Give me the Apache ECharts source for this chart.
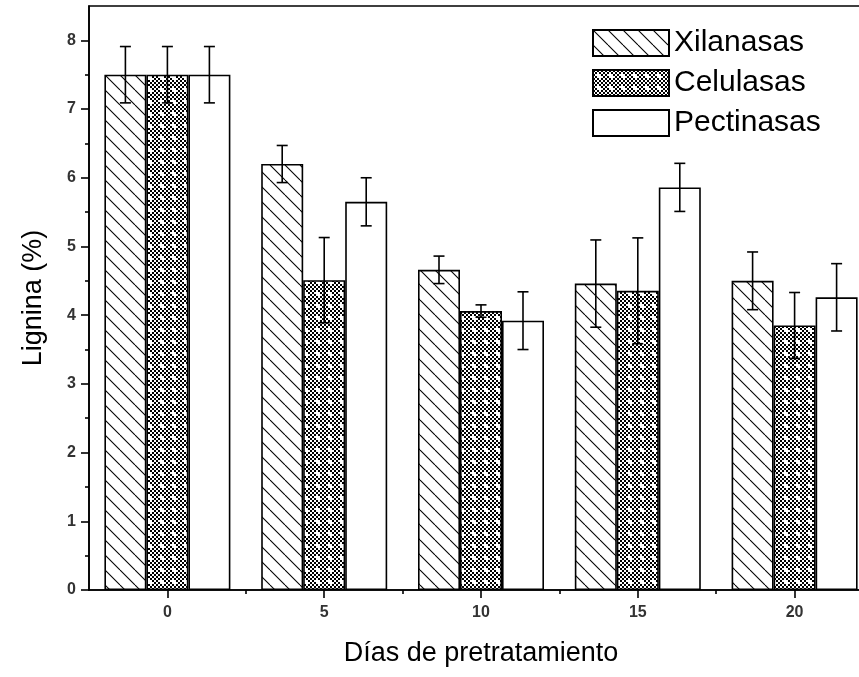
<!DOCTYPE html>
<html>
<head>
<meta charset="utf-8">
<script src="https://cdn.jsdelivr.net/npm/echarts@6/dist/echarts.min.js"></script>
<style>
html,body{margin:0;padding:0;background:#fff;}
#chart{width:859px;height:677px;}
</style>
</head>
<body>
<div id="chart"></div>
<script>
// ---- data ----
const days = [0, 5, 10, 15, 20];
const seriesNames = ['Xilanasas', 'Celulasas', 'Pectinasas'];
const xilanasas = [7.5, 6.2, 4.66, 4.46, 4.5];
const xilanasasErr = [0.41, 0.27, 0.2, 0.635, 0.42];
const celulasas = [7.5, 4.51, 4.06, 4.355, 3.85];
const celulasasErr = [0.41, 0.62, 0.09, 0.77, 0.48];
const pectinasas = [7.5, 5.65, 3.92, 5.86, 4.26];
const pectinasasErr = [0.41, 0.35, 0.42, 0.35, 0.49];
const xMajorTicks = [0, 5, 10, 15, 20];
const xMinorTicks = [2.5, 7.5, 12.5, 17.5];
const yMajorTicks = [0, 1, 2, 3, 4, 5, 6, 7, 8];
const yMinorTicks = [0.5, 1.5, 2.5, 3.5, 4.5, 5.5, 6.5, 7.5];

// ---- patterns ----
function hatchPattern() {
  const c = document.createElement('canvas');
  c.width = 15; c.height = 15;
  const g = c.getContext('2d');
  g.fillStyle = '#fff'; g.fillRect(0, 0, 15, 15);
  g.strokeStyle = '#000'; g.lineWidth = 1.1;
  for (let k = -1; k <= 1; k++) {
    g.beginPath();
    g.moveTo(k * 15, 0);
    g.lineTo(k * 15 + 15, 15);
    g.stroke();
  }
  return c;
}
function checkPattern() {
  const c = document.createElement('canvas');
  c.width = 12; c.height = 12;
  const g = c.getContext('2d');
  g.fillStyle = '#fff'; g.fillRect(0, 0, 12, 12);
  g.fillStyle = '#000';
  for (let i = 0; i < 6; i++) {
    for (let j = 0; j < 6; j++) {
      if ((i + j) % 2 === 0) {
        const di = Math.abs(i - 2.5), dj = Math.abs(j - 2.5);
        if (di + dj < 1.6) continue;
        g.fillRect(i * 2, j * 2, 2, 2);
      }
    }
  }
  return c;
}

const fills = [
  { image: hatchPattern(), repeat: 'repeat' },
  { image: checkPattern(), repeat: 'repeat' },
  '#ffffff'
];
const values = [xilanasas, celulasas, pectinasas];
const errors = [xilanasasErr, celulasasErr, pectinasasErr];
const BAR_W = 42;
const offsets = [-BAR_W, 0, BAR_W];

const font = 'Liberation Sans, Arial, sans-serif';

const series = [];
seriesNames.forEach((name, s) => {
  series.push({
    name: name,
    type: 'bar',
    xAxisIndex: 0, yAxisIndex: 0,
    barWidth: BAR_W,
    barGap: '0%',
    itemStyle: { color: fills[s], borderColor: '#000', borderWidth: 1.6 },
    data: days.map((d, i) => [d, values[s][i]]),
    z: 2
  });
});
seriesNames.forEach((name, s) => {
  series.push({
    type: 'custom',
    xAxisIndex: 0, yAxisIndex: 0,
    z: 5,
    silent: true,
    clip: false,
    data: days.map((d, i) => [d, values[s][i], errors[s][i]]),
    renderItem: function (params, api) {
      const x = api.value(0), v = api.value(1), e = api.value(2);
      const hi = api.coord([x, v + e]);
      const lo = api.coord([x, v - e]);
      const cx = hi[0] + offsets[s];
      const cap = 5.5;
      const st = { stroke: '#000', lineWidth: 1.6 };
      return {
        type: 'group',
        children: [
          { type: 'line', shape: { x1: cx, y1: hi[1], x2: cx, y2: lo[1] }, style: st },
          { type: 'line', shape: { x1: cx - cap, y1: hi[1], x2: cx + cap, y2: hi[1] }, style: st },
          { type: 'line', shape: { x1: cx - cap, y1: lo[1], x2: cx + cap, y2: lo[1] }, style: st }
        ]
      };
    }
  });
});

const chart = echarts.init(document.getElementById('chart'), null, { renderer: 'canvas' });
chart.setOption({
  animation: false,
  backgroundColor: '#fff',
  grid: {
    left: 89, top: 6, width: 784, height: 584,
    outerBoundsMode: 'none',
    containLabel: false,
    show: true, borderColor: '#000', borderWidth: 1.6, backgroundColor: 'transparent'
  },
  legend: {
    orient: 'vertical',
    left: 587, top: 23,
    icon: 'rect',
    itemWidth: 76, itemHeight: 26, itemGap: 10,
    data: seriesNames,
    textStyle: { fontFamily: font, fontSize: 30, color: '#000', padding: [0, 0, 0, 0] },
    selectedMode: false
  },
  xAxis: [
    {
      type: 'value', min: -2.5, max: 22.5,
      position: 'bottom',
      splitLine: { show: false },
      axisLine: { show: true, onZero: false, lineStyle: { color: '#000', width: 1.6 } },
      axisTick: { show: true, inside: false, length: 8, customValues: xMajorTicks, lineStyle: { color: '#000', width: 1.6 } },
      axisLabel: { customValues: xMajorTicks, margin: 15, fontFamily: font, fontSize: 16, fontWeight: 'bold', color: '#333' },
      name: 'Días de pretratamiento',
      nameLocation: 'middle', nameGap: 50,
      nameTextStyle: { fontFamily: font, fontSize: 27, color: '#000' }
    },
    {
      type: 'value', min: -2.5, max: 22.5,
      position: 'bottom',
      splitLine: { show: false },
      axisLine: { show: false, onZero: false },
      axisTick: { show: true, length: 4, customValues: xMinorTicks, lineStyle: { color: '#000', width: 1.6 } },
      axisLabel: { show: false }
    }
  ],
  yAxis: [
    {
      type: 'value', min: 0, max: 8.5,
      position: 'left',
      splitLine: { show: false },
      axisLine: { show: true, onZero: false, lineStyle: { color: '#000', width: 1.6 } },
      axisTick: { show: true, length: 8, customValues: yMajorTicks, lineStyle: { color: '#000', width: 1.6 } },
      axisLabel: { customValues: yMajorTicks, margin: 13, fontFamily: font, fontSize: 16, fontWeight: 'bold', color: '#333' },
      name: 'Lignina (%)',
      nameLocation: 'middle', nameGap: 42,
      nameTextStyle: { fontFamily: font, fontSize: 27, color: '#000' }
    },
    {
      type: 'value', min: 0, max: 8.5,
      position: 'left',
      splitLine: { show: false },
      axisLine: { show: false, onZero: false },
      axisTick: { show: true, length: 4, customValues: yMinorTicks, lineStyle: { color: '#000', width: 1.6 } },
      axisLabel: { show: false }
    }
  ],
  series: series
});
</script>
</body>
</html>
